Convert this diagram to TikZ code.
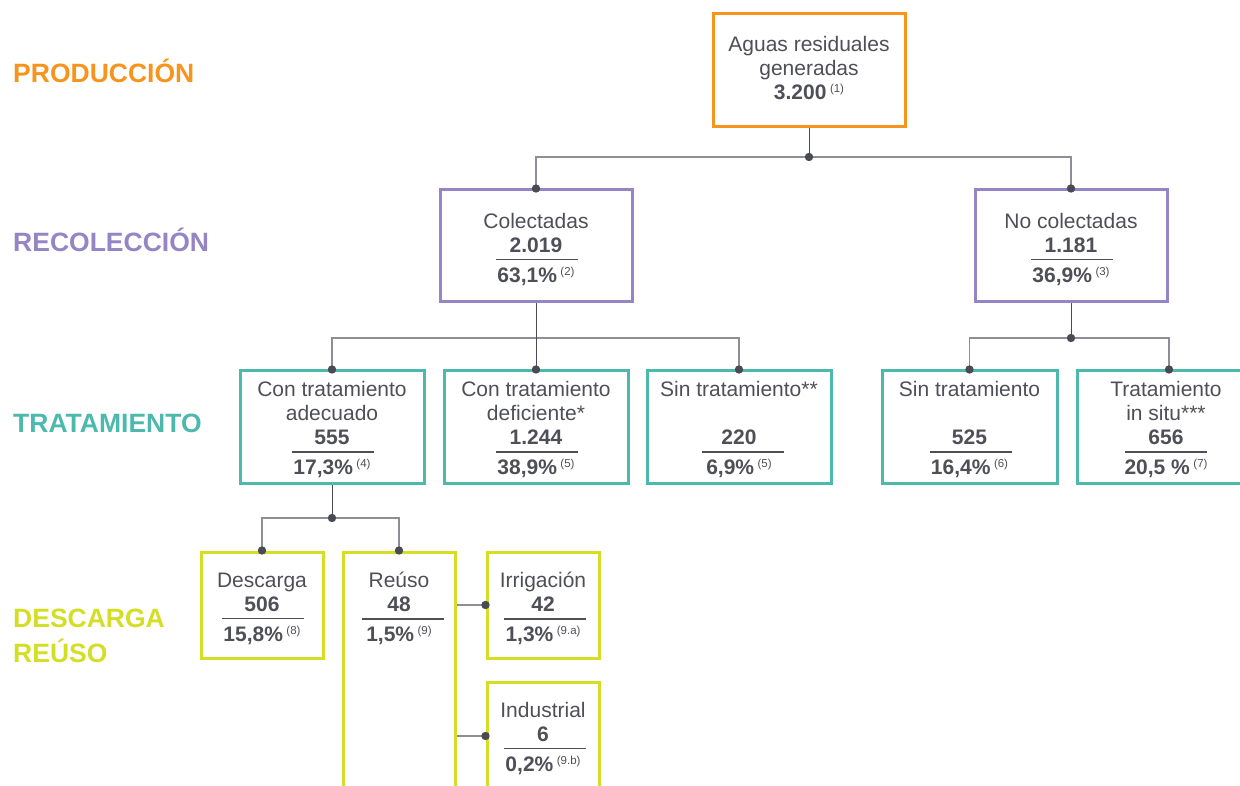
\documentclass[tikz,border=0pt]{standalone}
\usepackage{fontspec}
\setmainfont{Liberation Sans}
\definecolor{cOr}{HTML}{F7941D}
\definecolor{cPu}{HTML}{9585C4}
\definecolor{cTe}{HTML}{4DB8AC}
\definecolor{cYe}{HTML}{D4DE25}
\definecolor{cTx}{HTML}{4F4F58}
\definecolor{cLn}{HTML}{8E8E96}
\definecolor{cDk}{HTML}{4A4A55}
\newcommand\nota[1]{\,{\fontsize{11.5}{11.5}\selectfont\raisebox{7pt}{(#1)}}}
\newcommand\cifra[3]{\textbf{#1}\\[6pt]\makebox[82pt]{\rlap{\smash{\raisebox{22pt}{\color{cTx}\rule{82pt}{1.5pt}}}}\hfil\textbf{#2}\nota{#3}\hfil}}
\tikzset{
  bx/.style={draw, line width=3pt, inner sep=0pt, fill=white},
  txt/.style={align=center, text=cTx, inner sep=0pt, font=\fontsize{21}{24}\selectfont},
  lvl/.style={anchor=west, inner sep=0pt, font=\bfseries\fontsize{26.5}{35}\selectfont, align=left},
  stem/.style={draw=cDk, line width=1pt},
  branch/.style={draw=cLn, line width=1.3pt},
  dotc/.style={fill=cDk}
}
\begin{document}
\begin{tikzpicture}[x=1pt,y=-1pt]
\useasboundingbox (0,0) rectangle (1240,786);
% level labels
\node[lvl, text=cOr] (lprod) at (13,71) {PRODUCCIÓN};
\node[lvl, text=cPu] (lrec) at (13,240) {RECOLECCIÓN};
\node[lvl, text=cTe] (ltra) at (13,423) {TRATAMIENTO};
\node[lvl, text=cYe] (ldes) at (13,636) {DESCARGA\\REÚSO};
% boxes
\node[bx, draw=cOr, minimum width=192pt, minimum height=113pt] (prod) at (809,70) {};
\node[bx, draw=cPu, minimum width=192pt, minimum height=112pt] (col) at (536,246) {};
\node[bx, draw=cPu, minimum width=192pt, minimum height=112pt] (ncol) at (1071,246) {};
\node[bx, draw=cTe, minimum width=184pt, minimum height=112pt] (t1) at (332,427) {};
\node[bx, draw=cTe, minimum width=184pt, minimum height=112pt] (t2) at (536,427) {};
\node[bx, draw=cTe, minimum width=184pt, minimum height=112pt] (t3) at (739,427) {};
\node[bx, draw=cTe, minimum width=175pt, minimum height=112pt] (t4) at (969.5,427) {};
\node[bx, draw=cTe, minimum width=184pt, minimum height=112pt] (t5) at (1169,427) {};
\node[bx, draw=cYe, minimum width=122pt, minimum height=106pt] (des) at (262,605) {};
\node[bx, draw=cYe, minimum width=112pt, minimum height=268pt] (reu) at (399,686) {};
\node[bx, draw=cYe, minimum width=112pt, minimum height=106pt] (irr) at (543,605) {};
\node[bx, draw=cYe, minimum width=112pt, minimum height=138pt] (ind) at (543,751) {};
% texts
\node[txt] (prodT) at (809,68) {Aguas residuales\\generadas\\\textbf{3.200}\nota{1}};
\node[txt] (colT) at (536,249.5) {Colectadas\\\cifra{2.019}{63,1\%}{2}};
\node[txt] (ncolT) at (1071,249.5) {No colectadas\\\cifra{1.181}{36,9\%}{3}};
\node[txt] (t1T) at (332,430) {Con tratamiento\\adecuado\\\cifra{555}{17,3\%}{4}};
\node[txt] (t2T) at (536,430) {Con tratamiento\\deficiente*\\\cifra{1.244}{38,9\%}{5}};
\node[txt] (t3T) at (739,430) {Sin tratamiento**\\\mbox{}\\\cifra{220}{6,9\%}{5}};
\node[txt] (t4T) at (969.5,430) {Sin tratamiento\\\mbox{}\\\cifra{525}{16,4\%}{6}};
\node[txt] (t5T) at (1166,430) {Tratamiento\\in situ***\\\cifra{656}{20,5 \%}{7}};
\node[txt] (desT) at (262,608.5) {Descarga\\\cifra{506}{15,8\%}{8}};
\node[txt] (reuT) at (399,608.5) {Reúso\\\cifra{48}{1,5\%}{9}};
\node[txt] (irrT) at (543,608.5) {Irrigación\\\cifra{42}{1,3\%}{9.a}};
\node[txt] (indT) at (543,738.5) {Industrial\\\cifra{6}{0,2\%}{9.b}};
% connectors
\coordinate (j1) at (809,157);
\coordinate (j2) at (536,338);
\coordinate (j3) at (1071,338);
\coordinate (j4) at (332,518);
\draw[stem] (prod.south) -- (j1);
\draw[branch] (col.north) |- (j1) -| (ncol.north);
\draw[branch] (t1.north) |- (j2) -| (t3.north);
\draw[stem] (col.south) -- (t2.north);
\draw[stem] (ncol.south) -- (j3);
\draw[branch] (t4.north) |- (j3) -| (t5.north);
\draw[stem] (t1.south) -- (j4);
\draw[branch] (des.north) |- (j4) -| (reu.north);
\draw[branch] (irr.west -| reu.east) -- (irr.west);
\draw[branch] ([yshift=15pt]ind.west -| reu.east) -- ([yshift=15pt]ind.west);
% dots
\foreach \p in {j1,j3,j4,col.north,ncol.north,t1.north,t2.north,t3.north,t4.north,t5.north,des.north,reu.north,irr.west}
  \fill[dotc] (\p) circle (4.2pt);
\fill[dotc] ([yshift=15pt]ind.west) circle (4.2pt);
\end{tikzpicture}
\end{document}
